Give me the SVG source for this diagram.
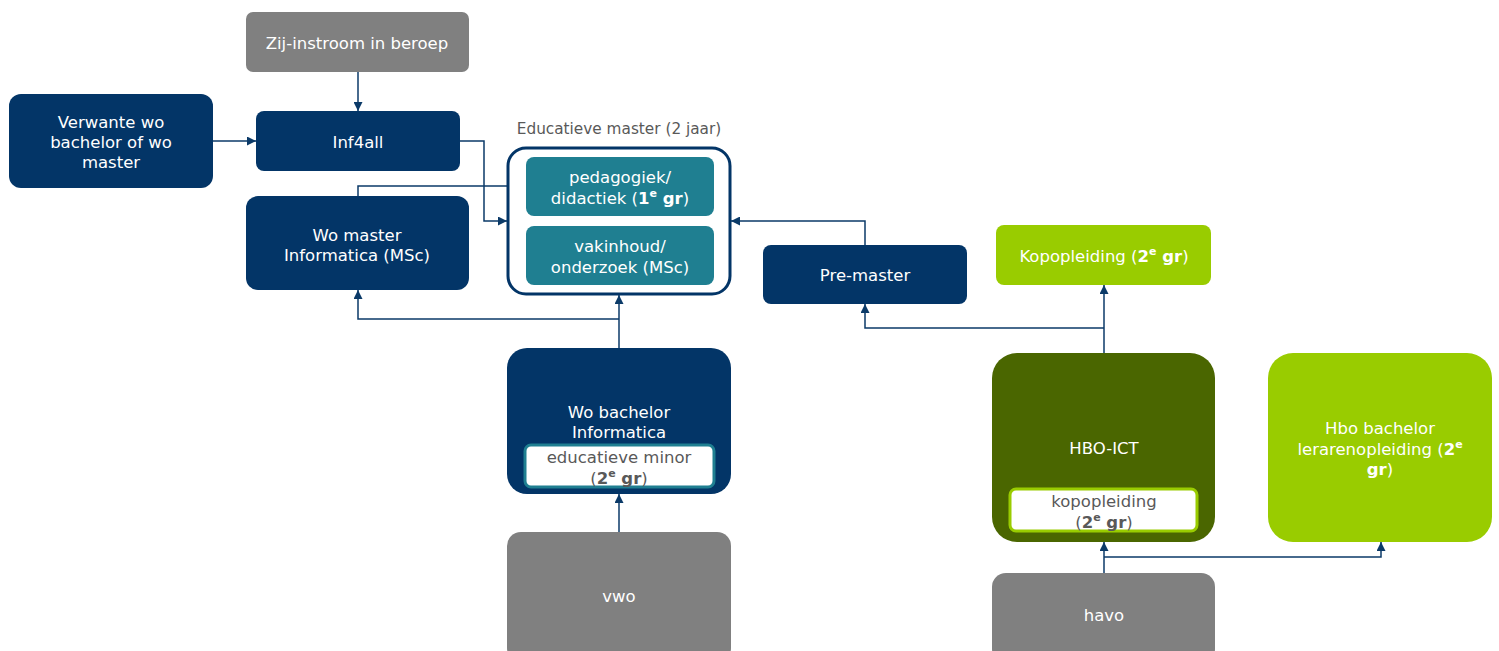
<svg xmlns="http://www.w3.org/2000/svg" width="1499" height="651" viewBox="0 0 1499 651">
<defs>
<marker id="ah" viewBox="0 0 10 10" refX="10" refY="5" markerWidth="9" markerHeight="9" markerUnits="userSpaceOnUse" orient="auto">
<path d="M0,0 L10,5 L0,10 z" fill="#0b3a68"/>
</marker>
<style>
text{font-family:"DejaVu Sans",Verdana,sans-serif;font-size:16.5px;text-anchor:middle;dominant-baseline:central}
.w{fill:#ffffff}
.g{fill:#595959}
.navy{fill:#033567}
.gray{fill:#808080}
.teal{fill:#1f7f91}
.lime{fill:#99cc00}
.olive{fill:#4a6600}
.c{fill:none;stroke:#0b3a68;stroke-width:1.5;marker-end:url(#ah)}
.b{font-weight:bold}
.sup{font-size:11px;font-weight:bold}
</style>
</defs>
<g id="connectors">
<path class="c" d="M358,72 V111"/>
<path class="c" d="M213,141 H256"/>
<path class="c" d="M460,141 H484 V221 H507"/>
<path class="c" d="M358,196 V186 H526"/>
<path class="c" d="M619,348 V295"/>
<path class="c" d="M619,319 H358 V290"/>
<path class="c" d="M865,245 V221 H731"/>
<path class="c" d="M1104,353 V285"/>
<path class="c" d="M1104,328 H865 V304"/>
<path class="c" d="M619,532 V494"/>
<path class="c" d="M1104,573 V542"/>
<path class="c" d="M1104,557 H1381 V542"/>
</g>
<g id="zij">
<rect class="gray" x="246" y="12" width="223" height="60" rx="7"/>
<text class="w" x="357" y="43">Zij-instroom in beroep</text>
</g>
<g id="verwante">
<rect class="navy" x="9" y="94" width="204" height="94" rx="12"/>
<text class="w" x="111" y="122">Verwante wo</text>
<text class="w" x="111" y="142">bachelor of wo</text>
<text class="w" x="111" y="162">master</text>
</g>
<g id="inf4all">
<rect class="navy" x="256" y="111" width="204" height="60" rx="8"/>
<text class="w" x="358" y="142">Inf4all</text>
</g>
<g id="womaster">
<rect class="navy" x="246" y="196" width="223" height="94" rx="12"/>
<text class="w" x="357" y="235">Wo master</text>
<text class="w" x="357" y="255">Informatica (MSc)</text>
</g>
<g id="edumaster">
<text class="g" x="619" y="129" style="font-size:15.3px">Educatieve master (2 jaar)</text>
<rect x="508" y="148" width="222" height="146" rx="18" fill="#ffffff" stroke="#033567" stroke-width="3"/>
<rect class="teal" x="526" y="157" width="188" height="59" rx="8"/>
<text class="w" x="620" y="177">pedagogiek/</text>
<text class="w" x="620" y="198">didactiek (<tspan class="b">1</tspan><tspan class="sup" dy="-5">e</tspan><tspan class="b" dy="5"> gr</tspan>)</text>
<rect class="teal" x="526" y="226" width="188" height="59" rx="8"/>
<text class="w" x="620" y="246">vakinhoud/</text>
<text class="w" x="620" y="267">onderzoek (MSc)</text>
</g>
<g id="premaster">
<rect class="navy" x="763" y="245" width="204" height="59" rx="8"/>
<text class="w" x="865" y="275">Pre-master</text>
</g>
<g id="kopopleiding">
<rect class="lime" x="996" y="225" width="215" height="60" rx="8"/>
<text class="w" x="1104" y="256">Kopopleiding (<tspan class="b">2</tspan><tspan class="sup" dy="-5">e</tspan><tspan class="b" dy="5"> gr</tspan>)</text>
</g>
<g id="wobachelor">
<rect class="navy" x="507" y="348" width="224" height="146" rx="20"/>
<text class="w" x="619" y="412">Wo bachelor</text>
<text class="w" x="619" y="432">Informatica</text>
<rect x="525" y="445" width="189" height="42" rx="6" fill="#ffffff" stroke="#1f7f91" stroke-width="3"/>
<text class="g" x="619" y="457">educatieve minor</text>
<text class="g" x="619" y="478">(<tspan class="b">2</tspan><tspan class="sup" dy="-5">e</tspan><tspan class="b" dy="5"> gr</tspan>)</text>
</g>
<g id="vwo">
<rect class="gray" x="507" y="532" width="224" height="130" rx="14"/>
<text class="w" x="619" y="596">vwo</text>
</g>
<g id="hboict">
<rect class="olive" x="992" y="353" width="223" height="189" rx="25"/>
<text class="w" x="1104" y="448">HBO-ICT</text>
<rect x="1010" y="489" width="187" height="42" rx="6" fill="#ffffff" stroke="#99cc00" stroke-width="3"/>
<text class="g" x="1104" y="501">kopopleiding</text>
<text class="g" x="1104" y="522">(<tspan class="b">2</tspan><tspan class="sup" dy="-5">e</tspan><tspan class="b" dy="5"> gr</tspan>)</text>
</g>
<g id="hbobachelor">
<rect class="lime" x="1268" y="353" width="224" height="189" rx="25"/>
<text class="w" x="1380" y="428">Hbo bachelor</text>
<text class="w" x="1380" y="449">lerarenopleiding (<tspan class="b">2</tspan><tspan class="sup" dy="-5">e</tspan></text>
<text class="w" x="1380" y="469"><tspan class="b">gr</tspan>)</text>
</g>
<g id="havo">
<rect class="gray" x="992" y="573" width="223" height="90" rx="14"/>
<text class="w" x="1104" y="615">havo</text>
</g>
</svg>
